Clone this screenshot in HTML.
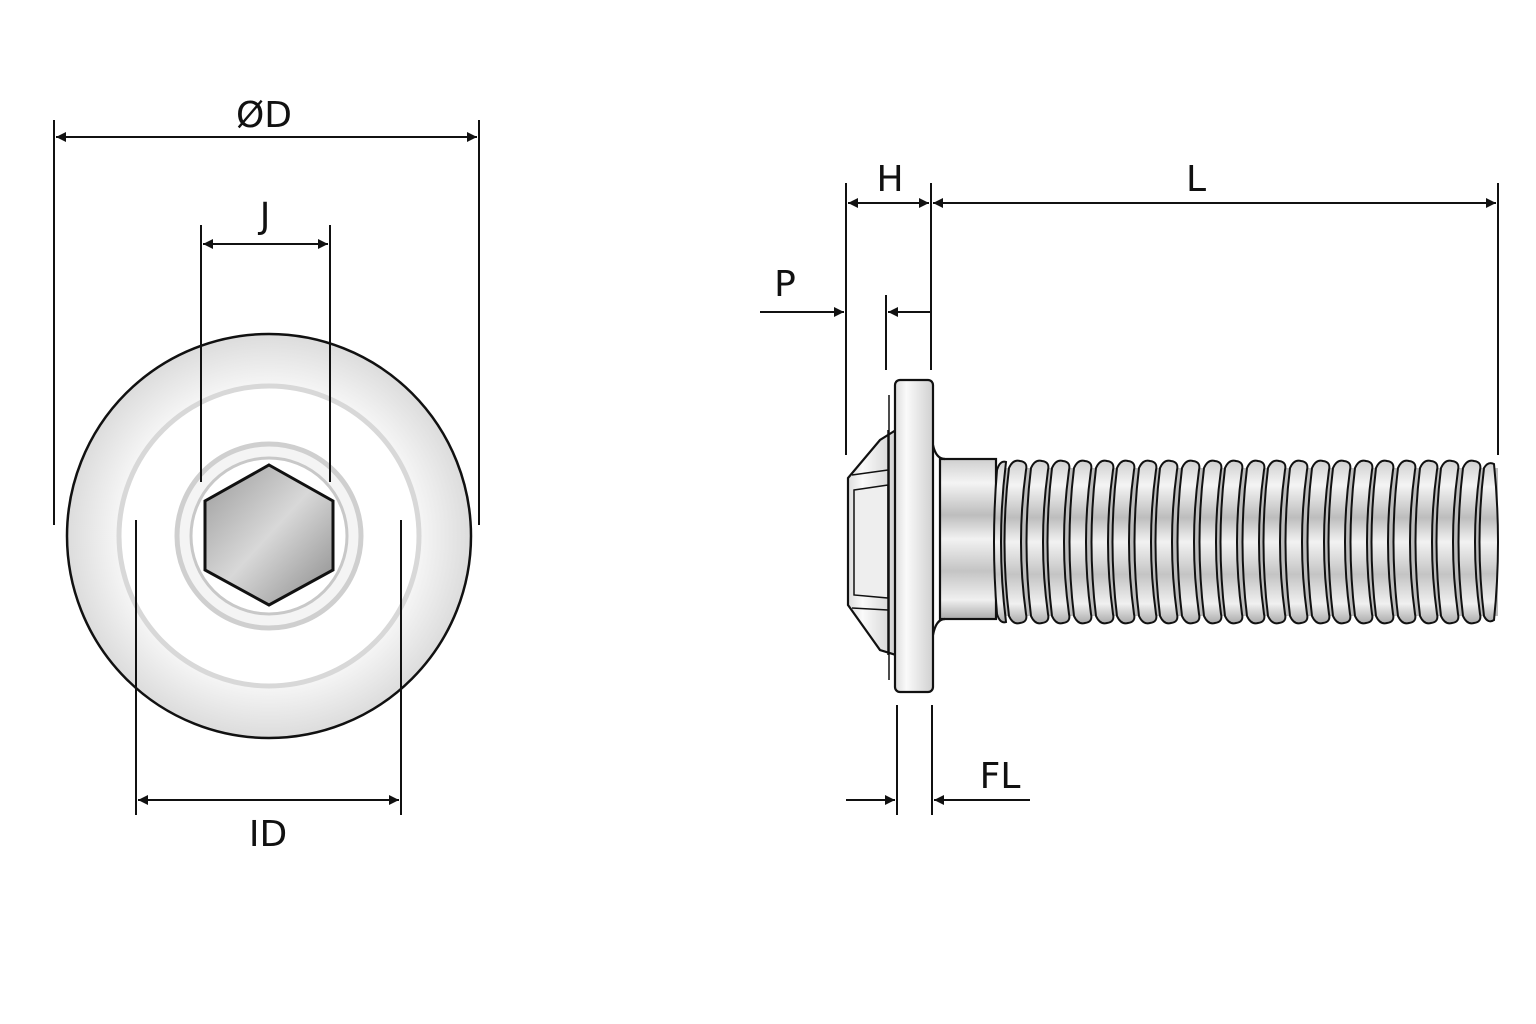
<!DOCTYPE html>
<html><head><meta charset="utf-8"><style>
html,body{margin:0;padding:0;background:#fff;}
svg{display:block}
text{font-family:"DejaVu Sans","Liberation Sans",sans-serif;font-size:36px;fill:#111;text-anchor:middle}
</style></head><body>
<svg width="1536" height="1024" viewBox="0 0 1536 1024" xmlns="http://www.w3.org/2000/svg">
<defs>
<marker id="a" viewBox="0 0 10 10" refX="10" refY="5" markerWidth="20" markerHeight="10" markerUnits="userSpaceOnUse" orient="auto-start-reverse"><path d="M0,0 L10,5 L0,10 z" fill="#111"/></marker>
<linearGradient id="vg" x1="0" y1="0" x2="0" y2="1">
<stop offset="0" stop-color="#cfcfcf"/><stop offset=".15" stop-color="#f4f4f4"/><stop offset=".35" stop-color="#bdbdbd"/><stop offset=".5" stop-color="#f2f2f2"/><stop offset=".7" stop-color="#c4c4c4"/><stop offset=".88" stop-color="#f0f0f0"/><stop offset="1" stop-color="#aaa"/></linearGradient>
<linearGradient id="fg" x1="0" y1="0" x2="1" y2="0"><stop offset="0" stop-color="#ddd"/><stop offset=".3" stop-color="#fafafa"/><stop offset="1" stop-color="#d0d0d0"/></linearGradient>
<radialGradient id="rg" cx=".5" cy=".5" r=".5"><stop offset=".7" stop-color="#fafafa"/><stop offset="1" stop-color="#dcdcdc"/></radialGradient>
<linearGradient id="hg" x1="0" y1="0" x2="1" y2="1"><stop offset="0" stop-color="#9a9a9a"/><stop offset=".5" stop-color="#d8d8d8"/><stop offset="1" stop-color="#8a8a8a"/></linearGradient>
</defs>
<!-- left view -->
<circle cx="269" cy="536" r="202" fill="url(#rg)" stroke="#111" stroke-width="2.5"/>
<circle cx="269" cy="536" r="150" fill="#fff" stroke="#d8d8d8" stroke-width="5"/>
<circle cx="269" cy="536" r="92" fill="#f4f4f4" stroke="#cfcfcf" stroke-width="5"/>
<circle cx="269" cy="536" r="78" fill="#fff" stroke="#c8c8c8" stroke-width="3"/>
<polygon points="269,465 333,501 333,570 269,605 205,570 205,501" fill="url(#hg)" stroke="#111" stroke-width="3"/>
<g stroke="#111" stroke-width="2" fill="none">
<line x1="54" y1="120" x2="54" y2="525"/><line x1="479" y1="120" x2="479" y2="525"/>
<line x1="56" y1="137" x2="477" y2="137" marker-start="url(#a)" marker-end="url(#a)"/>
<line x1="201" y1="225" x2="201" y2="482"/><line x1="330" y1="225" x2="330" y2="482"/>
<line x1="203" y1="244" x2="328" y2="244" marker-start="url(#a)" marker-end="url(#a)"/>
<line x1="136" y1="520" x2="136" y2="815"/><line x1="401" y1="520" x2="401" y2="815"/>
<line x1="138" y1="800" x2="399" y2="800" marker-start="url(#a)" marker-end="url(#a)"/>
<line x1="846" y1="183" x2="846" y2="455"/><line x1="931" y1="183" x2="931" y2="370"/>
<line x1="848" y1="203" x2="929" y2="203" marker-start="url(#a)" marker-end="url(#a)"/>
<line x1="933" y1="203" x2="1496" y2="203" marker-start="url(#a)" marker-end="url(#a)"/>
<line x1="1498" y1="183" x2="1498" y2="455"/>
<line x1="886" y1="295" x2="886" y2="370"/>
<line x1="760" y1="312" x2="844" y2="312" marker-end="url(#a)"/>
<line x1="931" y1="312" x2="888" y2="312" marker-end="url(#a)"/>
<line x1="897" y1="705" x2="897" y2="815"/><line x1="932" y1="705" x2="932" y2="815"/>
<line x1="846" y1="800" x2="895" y2="800" marker-end="url(#a)"/>
<line x1="1030" y1="800" x2="934" y2="800" marker-end="url(#a)"/>
</g>
<text x="264" y="127">ØD</text><text x="265" y="228">J</text><text x="268" y="846">ID</text>
<text x="890" y="191">H</text><text x="1196" y="191">L</text><text x="785" y="296">P</text><text x="1000" y="788">FL</text>
<!-- right view screw -->
<g stroke="#111" stroke-width="2.2">
<rect x="990" y="468" width="508" height="148" fill="#bdbdbd" stroke="none"/>
<polygon points="896,430 896,655 880,650 848,605 848,478 880,440" fill="url(#fg)"/>
<polygon points="854,490 888,485 888,598 854,595" fill="#eee" stroke-width="1.5"/>
<line x1="852" y1="475" x2="888" y2="470" stroke-width="1.5"/><line x1="852" y1="608" x2="888" y2="610" stroke-width="1.5"/>
<line x1="888" y1="430" x2="888" y2="655" stroke-width="1.5"/>
<rect x="940" y="459" width="56" height="160" fill="url(#vg)"/>
<path d="M933,445 Q936,459 945,459 M933,635 Q936,619 945,619" fill="none"/>
<rect x="895" y="380" width="38" height="312" rx="5" fill="url(#fg)"/>
<line x1="889" y1="395" x2="889" y2="680" stroke-width="1.5"/>
</g>
<g stroke="#111" stroke-width="2" fill="url(#vg)">
<path d="M997,470 Q1000,460 1006,462 Q996,542 1006,622 Q1000,624 997,614 Q991,542 997,470 Z"/>
<path d="M1009,468 Q1013,459 1020,461 Q1028,462 1026,470 Q1016,542 1026,614 Q1028,622 1020,623 Q1013,625 1009,616 Q1000,542 1009,468 Z"/>
<path d="M1031,468 Q1035,459 1042,461 Q1050,462 1048,470 Q1038,542 1048,614 Q1050,622 1042,623 Q1035,625 1031,616 Q1022,542 1031,468 Z"/>
<path d="M1052,468 Q1056,459 1063,461 Q1071,462 1069,470 Q1059,542 1069,614 Q1071,622 1063,623 Q1056,625 1052,616 Q1043,542 1052,468 Z"/>
<path d="M1074,468 Q1078,459 1085,461 Q1093,462 1091,470 Q1081,542 1091,614 Q1093,622 1085,623 Q1078,625 1074,616 Q1065,542 1074,468 Z"/>
<path d="M1096,468 Q1100,459 1107,461 Q1115,462 1113,470 Q1103,542 1113,614 Q1115,622 1107,623 Q1100,625 1096,616 Q1087,542 1096,468 Z"/>
<path d="M1117,468 Q1121,459 1128,461 Q1136,462 1134,470 Q1124,542 1134,614 Q1136,622 1128,623 Q1121,625 1117,616 Q1108,542 1117,468 Z"/>
<path d="M1139,468 Q1143,459 1150,461 Q1158,462 1156,470 Q1146,542 1156,614 Q1158,622 1150,623 Q1143,625 1139,616 Q1130,542 1139,468 Z"/>
<path d="M1160,468 Q1164,459 1171,461 Q1179,462 1177,470 Q1167,542 1177,614 Q1179,622 1171,623 Q1164,625 1160,616 Q1151,542 1160,468 Z"/>
<path d="M1182,468 Q1186,459 1193,461 Q1201,462 1199,470 Q1189,542 1199,614 Q1201,622 1193,623 Q1186,625 1182,616 Q1173,542 1182,468 Z"/>
<path d="M1204,468 Q1208,459 1215,461 Q1223,462 1221,470 Q1211,542 1221,614 Q1223,622 1215,623 Q1208,625 1204,616 Q1195,542 1204,468 Z"/>
<path d="M1225,468 Q1229,459 1236,461 Q1244,462 1242,470 Q1232,542 1242,614 Q1244,622 1236,623 Q1229,625 1225,616 Q1216,542 1225,468 Z"/>
<path d="M1247,468 Q1251,459 1258,461 Q1266,462 1264,470 Q1254,542 1264,614 Q1266,622 1258,623 Q1251,625 1247,616 Q1238,542 1247,468 Z"/>
<path d="M1268,468 Q1272,459 1279,461 Q1287,462 1285,470 Q1275,542 1285,614 Q1287,622 1279,623 Q1272,625 1268,616 Q1259,542 1268,468 Z"/>
<path d="M1290,468 Q1294,459 1301,461 Q1309,462 1307,470 Q1297,542 1307,614 Q1309,622 1301,623 Q1294,625 1290,616 Q1281,542 1290,468 Z"/>
<path d="M1312,468 Q1316,459 1323,461 Q1331,462 1329,470 Q1319,542 1329,614 Q1331,622 1323,623 Q1316,625 1312,616 Q1303,542 1312,468 Z"/>
<path d="M1333,468 Q1337,459 1344,461 Q1352,462 1350,470 Q1340,542 1350,614 Q1352,622 1344,623 Q1337,625 1333,616 Q1324,542 1333,468 Z"/>
<path d="M1355,468 Q1359,459 1366,461 Q1374,462 1372,470 Q1362,542 1372,614 Q1374,622 1366,623 Q1359,625 1355,616 Q1346,542 1355,468 Z"/>
<path d="M1376,468 Q1380,459 1387,461 Q1395,462 1393,470 Q1383,542 1393,614 Q1395,622 1387,623 Q1380,625 1376,616 Q1367,542 1376,468 Z"/>
<path d="M1398,468 Q1402,459 1409,461 Q1417,462 1415,470 Q1405,542 1415,614 Q1417,622 1409,623 Q1402,625 1398,616 Q1389,542 1398,468 Z"/>
<path d="M1420,468 Q1424,459 1431,461 Q1439,462 1437,470 Q1427,542 1437,614 Q1439,622 1431,623 Q1424,625 1420,616 Q1411,542 1420,468 Z"/>
<path d="M1441,468 Q1445,459 1452,461 Q1460,462 1458,470 Q1448,542 1458,614 Q1460,622 1452,623 Q1445,625 1441,616 Q1432,542 1441,468 Z"/>
<path d="M1463,468 Q1467,459 1474,461 Q1482,462 1480,470 Q1470,542 1480,614 Q1482,622 1474,623 Q1467,625 1463,616 Q1454,542 1463,468 Z"/>
<path d="M1484,468 Q1488,461 1494,464 Q1502,542 1494,620 Q1488,624 1484,616 Q1475,542 1484,468 Z"/>
</g>
</svg>
</body></html>
